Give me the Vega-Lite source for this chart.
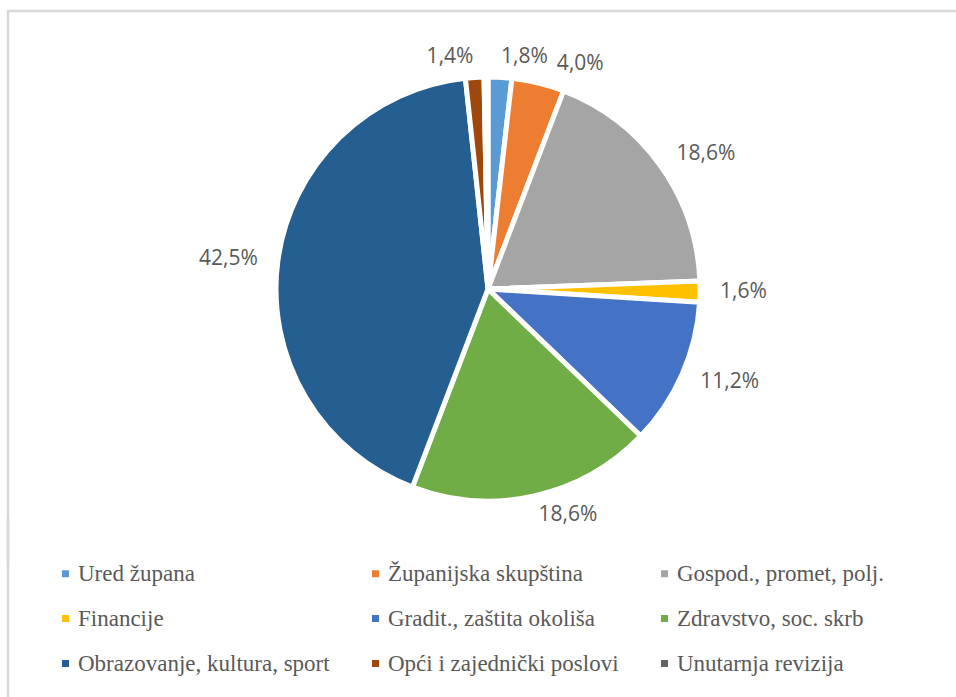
{
  "$schema": "https://vega.github.io/schema/vega-lite/v6.json",
  "width": 960,
  "height": 556,
  "autosize": "none",
  "padding": {"left": 8, "top": 11, "right": -12, "bottom": 130},
  "background": "white",
  "view": {"stroke": "#d9d9d9", "strokeWidth": 2.5, "strokeDash": [960, 1516, 556], "fill": "white"},
  "config": {
    "locale": {"number": {"decimal": ",", "thousands": ".", "grouping": [3], "currency": ["", " €"]}},
    "legend": {"strokeDash": [0, 1600, 5000], "strokeWidth": 2.5}
  },
  "data": {
    "values": [
      {"category": "Ured župana", "share": 0.018, "rank": 1},
      {"category": "Županijska skupština", "share": 0.040, "rank": 2},
      {"category": "Gospod., promet, polj.", "share": 0.186, "rank": 3},
      {"category": "Financije", "share": 0.016, "rank": 4},
      {"category": "Gradit., zaštita okoliša", "share": 0.112, "rank": 5},
      {"category": "Zdravstvo, soc. skrb", "share": 0.186, "rank": 6},
      {"category": "Obrazovanje, kultura, sport", "share": 0.425, "rank": 7},
      {"category": "Opći i zajednički poslovi", "share": 0.014, "rank": 8},
      {"category": "Unutarnja revizija", "share": 0.003, "rank": 9}
    ]
  },
  "encoding": {
    "theta": {"field": "share", "type": "quantitative", "stack": true},
    "order": {"field": "rank", "type": "quantitative"}
  },
  "layer": [
    {
      "mark": {"type": "arc", "outerRadius": 212, "stroke": "white", "strokeWidth": 5},
      "encoding": {
        "color": {
          "field": "category",
          "type": "nominal",
          "sort": ["Ured župana", "Županijska skupština", "Gospod., promet, polj.", "Financije", "Gradit., zaštita okoliša", "Zdravstvo, soc. skrb", "Obrazovanje, kultura, sport", "Opći i zajednički poslovi", "Unutarnja revizija"],
          "scale": {
            "domain": ["Ured župana", "Županijska skupština", "Gospod., promet, polj.", "Financije", "Gradit., zaštita okoliša", "Zdravstvo, soc. skrb", "Obrazovanje, kultura, sport", "Opći i zajednički poslovi", "Unutarnja revizija"],
            "range": ["#5B9BD5", "#ED7D31", "#A5A5A5", "#FFC000", "#4472C4", "#70AD47", "#255E91", "#9E480E", "#636363"]
          },
          "legend": {
            "title": null,
            "orient": "none",
            "legendX": 0,
            "legendY": 505,
            "direction": "horizontal",
            "columns": 3,
            "columnPadding": 34,
            "rowPadding": 21,
            "symbolType": "square",
            "symbolSize": 49,
            "symbolStrokeWidth": 0,
            "labelFont": "Liberation Serif",
            "labelFontSize": 23,
            "labelColor": "#595959",
            "labelOffset": 1,
            "labelLimit": 400,
            "padding": 46,
            "strokeColor": "#d9d9d9"
          }
        }
      }
    },
    {
      "mark": {
        "type": "text",
        "radius": 232,
        "font": "Open Sans",
        "fontSize": 21,
        "fill": "#595959",
        "baseline": "middle",
        "align": {"expr": "datum.category === 'Obrazovanje, kultura, sport' || datum.category === 'Opći i zajednički poslovi' ? 'right' : 'left'"},
        "dx": {"expr": "datum.category === 'Županijska skupština' ? 14 : 0"}
      },
      "encoding": {
        "detail": {"field": "category", "type": "nominal"},
        "text": {
          "field": "share",
          "type": "quantitative",
          "format": ".1%",
          "condition": {"test": "datum.share < 0.005", "value": ""}
        }
      }
    }
  ]
}
